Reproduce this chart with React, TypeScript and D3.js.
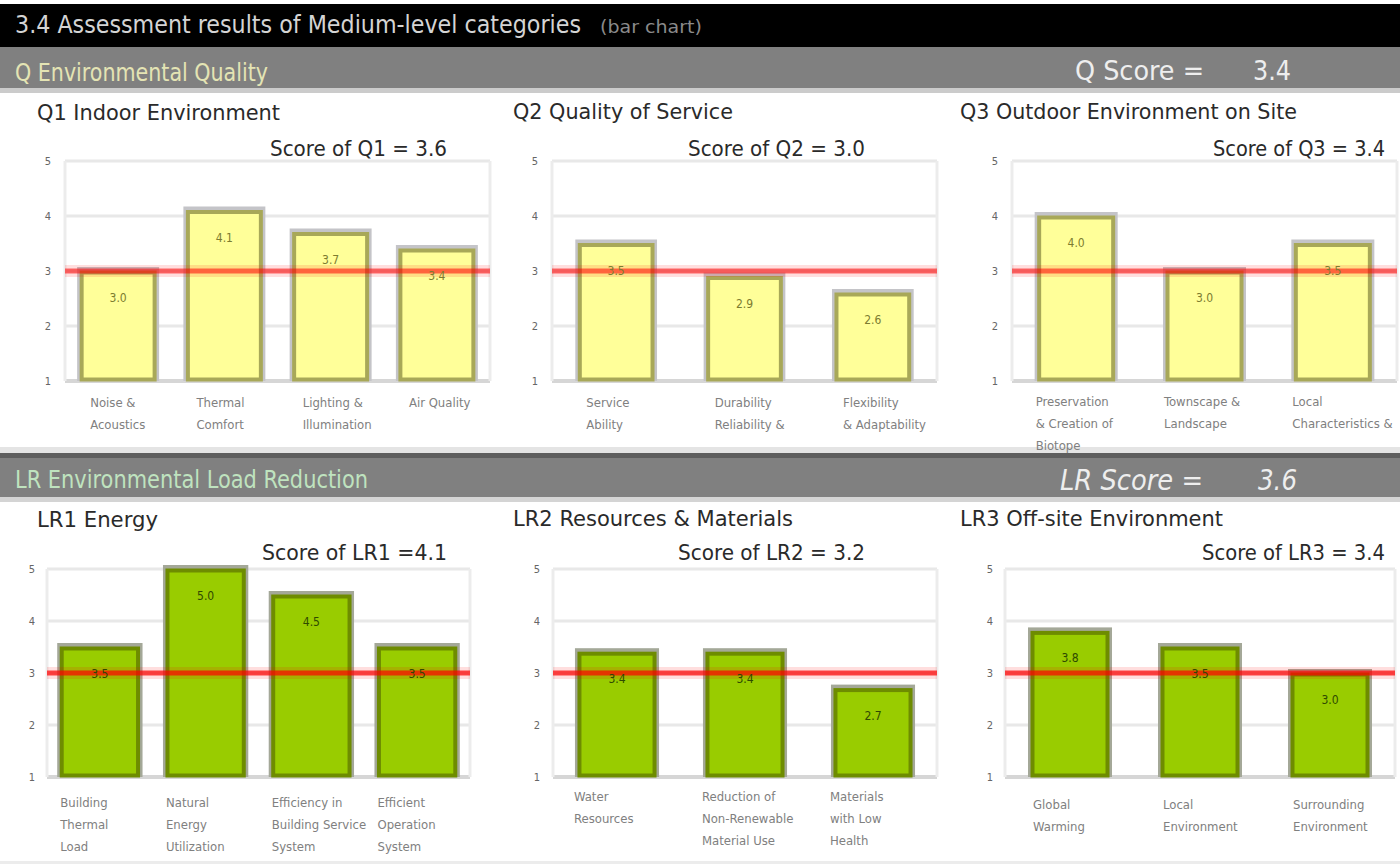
import React from 'react';
import * as d3 from 'd3';

// chart values
const q1Categories = [['Noise &', 'Acoustics'], ['Thermal', 'Comfort'], ['Lighting &', 'Illumination'], ['Air Quality']];
const q1Scores = [3.0, 4.1, 3.7, 3.4];
const q2Categories = [['Service', 'Ability'], ['Durability', 'Reliability &'], ['Flexibility', '& Adaptability']];
const q2Scores = [3.5, 2.9, 2.6];
const q3Categories = [['Preservation', '& Creation of', 'Biotope'], ['Townscape &', 'Landscape'], ['Local', 'Characteristics &']];
const q3Scores = [4.0, 3.0, 3.5];
const lr1Categories = [['Building', 'Thermal', 'Load'], ['Natural', 'Energy', 'Utilization'], ['Efficiency in', 'Building Service', 'System'], ['Efficient', 'Operation', 'System']];
const lr1Scores = [3.5, 5.0, 4.5, 3.5];
const lr2Categories = [['Water', 'Resources'], ['Reduction of', 'Non-Renewable', 'Material Use'], ['Materials', 'with Low', 'Health']];
const lr2Scores = [3.4, 3.4, 2.7];
const lr3Categories = [['Global', 'Warming'], ['Local', 'Environment'], ['Surrounding', 'Environment']];
const lr3Scores = [3.8, 3.5, 3.0];

const panelTitles = ['Q1 Indoor Environment', 'Q2 Quality of Service', 'Q3 Outdoor Environment on Site', 'LR1 Energy', 'LR2 Resources & Materials', 'LR3 Off-site Environment'];
const panelScores = ['Score of Q1 = 3.6', 'Score of Q2 = 3.0', 'Score of Q3 = 3.4', 'Score of LR1 =4.1', 'Score of LR2 = 3.2', 'Score of LR3 = 3.4'];
const yTicks = [1, 2, 3, 4, 5];
const referenceLevel = 3;

const FONT = "'Liberation Sans Narrow', 'Arial Narrow', 'DejaVu Sans Condensed', 'Liberation Sans', sans-serif";

const qStyle = { fill: '#ffff99', stroke: '#a8a858', outer: '#c4c4c8', label: '#7c7c30', red: 0.55 };
const lrStyle = { fill: '#99cc00', stroke: '#6e8c00', outer: '#a4a898', label: '#2f4a00', red: 0.7 };

// layout per panel (positions only)
const panels = [
  { title: panelTitles[0], score: panelScores[0], cats: q1Categories, vals: q1Scores, st: qStyle,
    left: 65, right: 490, top: 161, bottom: 381, tickX: 48, titleX: 37, titleY: 120, titleW: 243,
    scoreR: 447, scoreY: 156, scoreW: 177, labelY: 407, labelDx: 10, pad: 0.285 },
  { title: panelTitles[1], score: panelScores[1], cats: q2Categories, vals: q2Scores, st: qStyle,
    left: 552, right: 937, top: 161, bottom: 381, tickX: 535, titleX: 513, titleY: 119, titleW: 220,
    scoreR: 865, scoreY: 156, scoreW: 177, labelY: 407, labelDx: 8, pad: 0.41 },
  { title: panelTitles[2], score: panelScores[2], cats: q3Categories, vals: q3Scores, st: qStyle,
    left: 1012, right: 1397, top: 161, bottom: 381, tickX: 995, titleX: 960, titleY: 119, titleW: 337,
    scoreR: 1385, scoreY: 156, scoreW: 172, labelY: 406, labelDx: -2, pad: 0.4 },
  { title: panelTitles[3], score: panelScores[3], cats: lr1Categories, vals: lr1Scores, st: lrStyle,
    left: 47, right: 470, top: 569, bottom: 777, tickX: 32, titleX: 37, titleY: 527, titleW: 121,
    scoreR: 447, scoreY: 560, scoreW: 185, labelY: 807, labelDx: 0, pad: 0.25 },
  { title: panelTitles[4], score: panelScores[4], cats: lr2Categories, vals: lr2Scores, st: lrStyle,
    left: 553, right: 937, top: 569, bottom: 777, tickX: 537, titleX: 513, titleY: 526, titleW: 280,
    scoreR: 865, scoreY: 560, scoreW: 187, labelY: 801, labelDx: -4, pad: 0.39 },
  { title: panelTitles[5], score: panelScores[5], cats: lr3Categories, vals: lr3Scores, st: lrStyle,
    left: 1005, right: 1395, top: 569, bottom: 777, tickX: 990, titleX: 960, titleY: 526, titleW: 263,
    scoreR: 1385, scoreY: 560, scoreW: 183, labelY: 809, labelDx: 2, pad: 0.4 },
];

type Panel = typeof panels[number];

const BarPanel = ({ p }: { p: Panel }) => {
  const x = d3.scaleBand<number>()
    .domain(p.vals.map((_, i) => i))
    .range([p.left, p.right])
    .paddingInner(p.pad)
    .paddingOuter(p.pad / 2);
  const y = d3.scaleLinear().domain([1, 5]).range([p.bottom, p.top]);
  const bw = x.bandwidth();
  return (
    <g>
      <text x={p.titleX} y={p.titleY} fontSize={22} fill="#2a2a2a" textLength={p.titleW} lengthAdjust="spacingAndGlyphs">{p.title}</text>
      <text x={p.scoreR - p.scoreW} y={p.scoreY} fontSize={22} fill="#2a2a2a" textLength={p.scoreW} lengthAdjust="spacingAndGlyphs">{p.score}</text>
      {/* grid */}
      {yTicks.map(t => (
        <g key={t}>
          <line x1={p.left} x2={p.right} y1={y(t)} y2={y(t)} stroke={t === 1 ? '#d6d6d6' : '#e8e8e8'} strokeWidth={t === 1 ? 4 : 3} />
          <text x={p.tickX} y={y(t) + 4} fontSize={11} fill="#666" textAnchor="middle">{t}</text>
        </g>
      ))}
      <line x1={p.left} x2={p.left} y1={p.top} y2={p.bottom} stroke="#ececec" strokeWidth={3} />
      <line x1={p.right} x2={p.right} y1={p.top} y2={p.bottom} stroke="#ececec" strokeWidth={3} />
      {/* bars */}
      {p.vals.map((v, i) => {
        const bx = x(i) as number;
        const top = y(v);
        const h = y(1) - top;
        return (
          <g key={i}>
            <rect x={bx - 3} y={top - 4} width={bw + 6} height={h + 4} fill={p.st.outer} />
            <rect x={bx + 1.5} y={top + 1.5} width={bw - 3} height={h - 3} fill={p.st.fill} stroke={p.st.stroke} strokeWidth={4} />
          </g>
        );
      })}
      {/* reference line */}
      <line x1={p.left} x2={p.right} y1={y(referenceLevel)} y2={y(referenceLevel)} stroke="#ff0000" strokeOpacity={0.13} strokeWidth={12} />
      <line x1={p.left} x2={p.right} y1={y(referenceLevel)} y2={y(referenceLevel)} stroke="#ff0000" strokeOpacity={p.st.red} strokeWidth={5} />
      {/* value labels */}
      {p.vals.map((v, i) => (
        <text key={i} x={(x(i) as number) + bw / 2} y={y(v) + 31} fontSize={12} fill={p.st.label} textAnchor="middle">{v.toFixed(1)}</text>
      ))}
      {/* category labels */}
      {p.cats.map((lines, i) => (
        <text key={i} fontSize={13} fill="#808080">
          {lines.map((ln, j) => (
            <tspan key={j} x={(x(i) as number) + p.labelDx} y={p.labelY + j * 22}>{ln}</tspan>
          ))}
        </text>
      ))}
    </g>
  );
};

export default function App() {
  return (
    <div style={{ position: 'absolute', left: 0, top: 0 }}>
      <svg width={1400} height={866} style={{ display: 'block', fontFamily: FONT }}>
        <rect width={1400} height={866} fill="#fff" />
        {/* header */}
        <rect x={0} y={4} width={1400} height={43} fill="#000" />
        <text x={15} y={33} fontSize={24} fill="#d4d4d4" textLength={566} lengthAdjust="spacingAndGlyphs">3.4 Assessment results of Medium-level categories</text>
        <text x={600} y={33} fontSize={18} fill="#8a8a8a" textLength={102} lengthAdjust="spacingAndGlyphs">(bar chart)</text>
        {/* Q band */}
        <rect x={0} y={47} width={1400} height={41} fill="#808080" />
        <rect x={0} y={88} width={1400} height={5} fill="#cbcbcb" />
        <text x={15} y={81} fontSize={24} fill="#e4e4b4" textLength={253} lengthAdjust="spacingAndGlyphs">Q Environmental Quality</text>
        <text x={1075} y={80} fontSize={27} fill="#eeeeee" textLength={129} lengthAdjust="spacingAndGlyphs">Q Score =</text>
        <text x={1253} y={80} fontSize={27} fill="#eeeeee" textLength={38} lengthAdjust="spacingAndGlyphs">3.4</text>
        {/* LR band */}
        <rect x={0} y={447} width={1400} height={6} fill="#e4e4e4" />
        <rect x={0} y={453} width={1400} height={5} fill="#5e5e5e" />
        <rect x={0} y={458} width={1400} height={39} fill="#808080" />
        <rect x={0} y={497} width={1400} height={5} fill="#d4d4d4" />
        <text x={15} y={488} fontSize={24} fill="#bfe3bf" textLength={353} lengthAdjust="spacingAndGlyphs">LR Environmental Load Reduction</text>
        <text x={1060} y={490} fontSize={29} fontStyle="italic" fill="#eeeeee" textLength={143} lengthAdjust="spacingAndGlyphs">LR Score =</text>
        <text x={1258} y={490} fontSize={29} fontStyle="italic" fill="#eeeeee" textLength={39} lengthAdjust="spacingAndGlyphs">3.6</text>
        <rect x={0} y={861} width={1400} height={3} fill="#ececec" />
        {panels.map((p, i) => <BarPanel key={i} p={p} />)}
      </svg>
    </div>
  );
}
